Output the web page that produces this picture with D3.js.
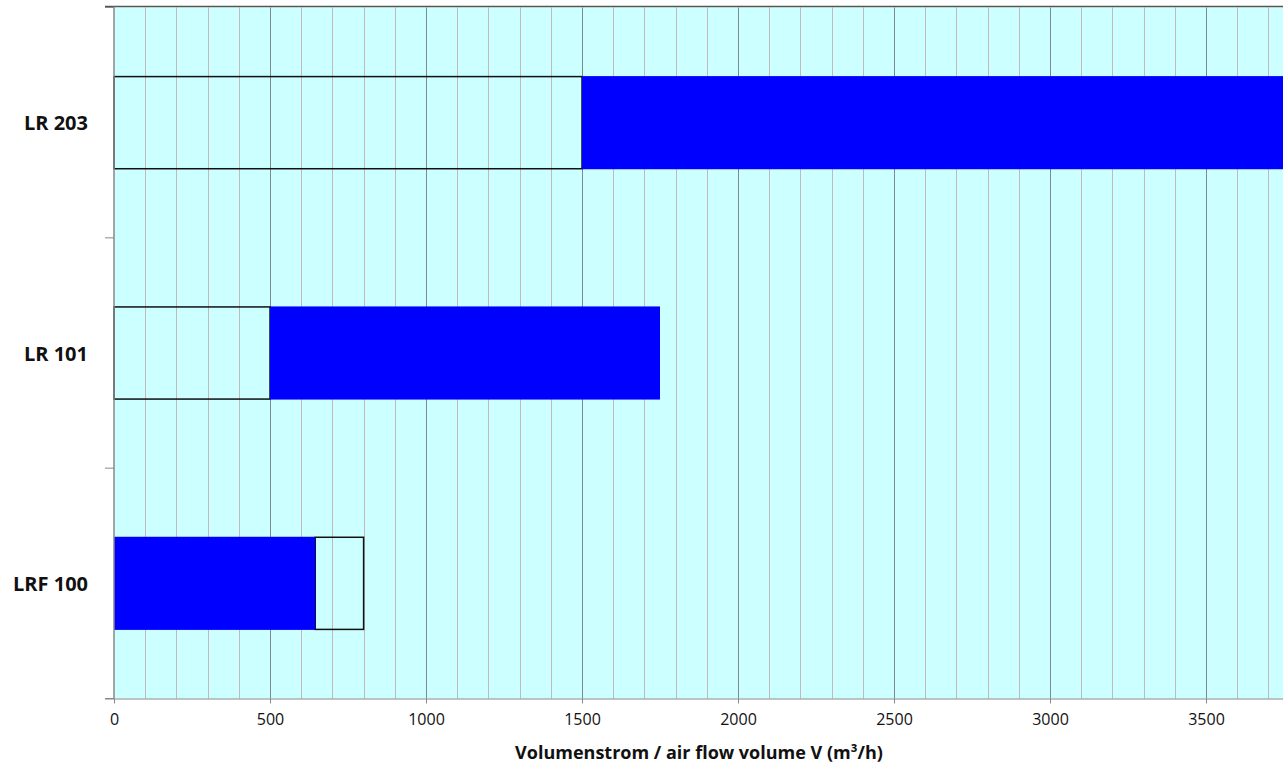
<!DOCTYPE html>
<html>
<head>
<meta charset="utf-8">
<script src="https://cdn.jsdelivr.net/npm/d3@7"></script>
<style>
  html, body { margin: 0; padding: 0; background: #fff; }
  svg { display: block; }
</style>
</head>
<body>
<svg id="chart" width="1283" height="768"></svg>
<script>
// Fan models, top to bottom
const categories = ["LR 203", "LR 101", "LRF 100"];
// Outlined (open) segment of each bar, m³/h
const openStart = [0, 0, 645];
const openEnd = [1500, 500, 800];
// Filled (blue) segment of each bar, m³/h
const fillStart = [1500, 500, 0];
const fillEnd = [3750, 1750, 645];
// Axis ticks
const majorTicks = [0, 500, 1000, 1500, 2000, 2500, 3000, 3500];
const minorTicks = d3.range(0, 3800, 100);
const xTitle = "Volumenstrom / air flow volume V (m³/h)";

const svg = d3.select("#chart");
const plot = { left: 114, right: 1284, top: 7.5, bottom: 698.5 };

const x = d3.scaleLinear().domain([0, 3750]).range([plot.left, plot.right]);
const y = d3.scaleBand().domain(categories).range([plot.top, plot.bottom])
  .paddingInner(0.6).paddingOuter(0.3);
const yBand = d3.scaleBand().domain(categories).range([plot.top, plot.bottom]);

// Plot background
svg.append("rect")
  .attr("x", plot.left).attr("y", plot.top)
  .attr("width", plot.right - plot.left).attr("height", plot.bottom - plot.top)
  .attr("fill", "#ccffff");

// Minor gridlines
svg.append("g").selectAll("line")
  .data(minorTicks.filter(d => d % 500 !== 0))
  .join("line")
  .attr("x1", d => Math.round(x(d)) + 0.5).attr("x2", d => Math.round(x(d)) + 0.5)
  .attr("y1", plot.top).attr("y2", plot.bottom)
  .attr("stroke", "#c4b8ba").attr("stroke-width", 1);

// Major gridlines
svg.append("g").selectAll("line")
  .data(majorTicks.filter(d => d > 0))
  .join("line")
  .attr("x1", d => Math.round(x(d)) + 0.5).attr("x2", d => Math.round(x(d)) + 0.5)
  .attr("y1", plot.top).attr("y2", plot.bottom)
  .attr("stroke", "#7f8a8a").attr("stroke-width", 1);

// Top border
svg.append("line")
  .attr("x1", plot.left - 9).attr("x2", plot.right)
  .attr("y1", plot.top - 1).attr("y2", plot.top - 1)
  .attr("stroke", "#555").attr("stroke-width", 1.5);

const rows = categories.map((c, i) => ({
  c, os: openStart[i], oe: openEnd[i], fs: fillStart[i], fe: fillEnd[i]
}));

// Open segments
svg.append("g").selectAll("rect")
  .data(rows)
  .join("rect")
  .attr("x", d => x(d.os)).attr("y", d => y(d.c))
  .attr("width", d => x(d.oe) - x(d.os)).attr("height", y.bandwidth())
  .attr("fill", "none").attr("stroke", "#111").attr("stroke-width", 1.5);

// Filled segments
svg.append("g").selectAll("rect")
  .data(rows)
  .join("rect")
  .attr("x", d => x(d.fs)).attr("y", d => y(d.c) - 0.5)
  .attr("width", d => x(d.fe) - x(d.fs)).attr("height", y.bandwidth() + 1)
  .attr("fill", "#0000ff");

// X axis
const xAxis = svg.append("g")
  .attr("transform", `translate(0,${plot.bottom})`)
  .call(d3.axisBottom(x).tickValues(majorTicks).tickSize(5).tickPadding(10).tickFormat(d3.format("d")));
xAxis.select(".domain").attr("stroke", "#888").attr("d", `M${plot.left - 9},0.5H${plot.right}`);
xAxis.selectAll(".tick line").attr("stroke", "#888");
xAxis.selectAll(".tick text")
  .attr("font-family", "'Open Sans', sans-serif").attr("font-size", 16).attr("fill", "#111");

// Y axis
const yAxis = svg.append("g").attr("transform", `translate(${plot.left},0)`);
yAxis.append("line")
  .attr("x1", 0).attr("x2", 0).attr("y1", plot.top - 1).attr("y2", plot.bottom)
  .attr("stroke", "#888").attr("stroke-width", 1.5);
const yTickPos = categories.map(c => yBand(c)).concat([plot.bottom]);
yAxis.selectAll("line.yt")
  .data(yTickPos)
  .join("line").attr("class", "yt")
  .attr("x1", -9).attr("x2", 0)
  .attr("y1", d => d).attr("y2", d => d)
  .attr("stroke", "#888");
yAxis.selectAll("text")
  .data(categories)
  .join("text")
  .attr("x", -26).attr("y", d => yBand(d) + yBand.bandwidth() / 2)
  .attr("text-anchor", "end").attr("dominant-baseline", "central")
  .attr("font-family", "'Open Sans', sans-serif").attr("font-weight", "bold")
  .attr("font-size", 20).attr("fill", "#111")
  .text(d => d);

// X axis title
svg.append("text")
  .attr("x", 699).attr("y", 759)
  .attr("text-anchor", "middle")
  .attr("font-family", "'Open Sans', sans-serif").attr("font-weight", "bold")
  .attr("font-size", 18).attr("fill", "#111")
  .text(xTitle);
</script>
</body>
</html>
